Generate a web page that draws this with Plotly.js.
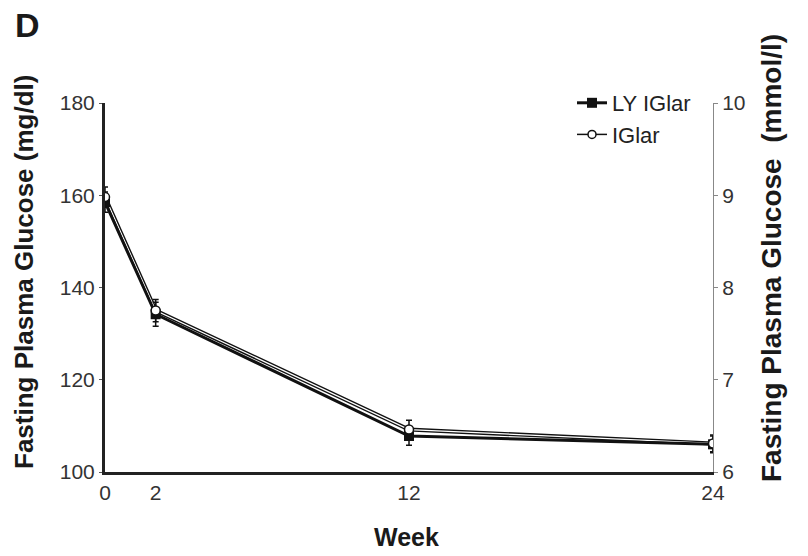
<!DOCTYPE html>
<html><head><meta charset="utf-8">
<script src="https://cdn.plot.ly/plotly-3.0.1.min.js"></script>
<style>body{margin:0;background:#fff}#c{width:808px;height:556px}</style>
</head><body><div id="c"></div>
<script>
const weeks = [0, 2, 12, 24];
const lyIGlar = [158.5, 134.2, 107.8, 106.0];
const lyErr = [2.2, 2.6, 2.0, 1.8];
const iGlar = [159.6, 135.0, 109.2, 106.2];
const iGlarErr = [2.2, 2.4, 2.0, 1.8];
const xTicks = [0, 2, 12, 24];
const yTicksMg = [100, 120, 140, 160, 180];
const yTicksMmol = [6, 7, 8, 9, 10];

const font = "Liberation Sans, Arial, sans-serif";
const W = 608, H = 369, L = 105, B = 472;
const px = x => (x - L) / W;
const py = y => (B - y) / H;

const traces = [
  {x: weeks, y: iGlar, mode: 'lines', line: {color: '#111', width: 4}, showlegend: false, hoverinfo: 'skip'},
  {x: weeks, y: iGlar, mode: 'lines', line: {color: '#fff', width: 1.2}, showlegend: false, hoverinfo: 'skip'},
  {x: weeks, y: lyIGlar, mode: 'lines+markers', name: 'LY IGlar',
   line: {color: '#111', width: 3},
   marker: {symbol: 'square', size: 10, color: '#111'},
   error_y: {type: 'data', array: lyErr, color: '#111', thickness: 1.5, width: 3}},
  {x: weeks, y: iGlar, mode: 'markers', name: 'IGlar', showlegend: false,
   marker: {symbol: 'circle', size: 9, color: '#fff', line: {color: '#111', width: 1.5}},
   error_y: {type: 'data', array: iGlarErr, color: '#111', thickness: 1.5, width: 3}},
  {x: [null], y: [null], mode: 'lines+markers', name: 'IGlar',
   line: {color: '#111', width: 1.5},
   marker: {symbol: 'circle', size: 8, color: '#fff', line: {color: '#111', width: 1.5}}},
  {x: [null], y: [null], yaxis: 'y2', showlegend: false, hoverinfo: 'skip'}
];
const ann = (text, x, y, size, angle) => ({text, x: px(x), y: py(y), xref: 'paper', yref: 'paper',
  xanchor: 'center', yanchor: 'middle', showarrow: false, textangle: angle || 0,
  font: {size, color: '#1a1a1a', family: font}});
const layout = {
  width: 808, height: 556,
  margin: {l: 105, r: 95, t: 103, b: 84},
  paper_bgcolor: '#fff', plot_bgcolor: '#fff',
  font: {family: font, color: '#222', size: 21},
  showlegend: true,
  legend: {x: px(572), y: py(82), xanchor: 'left', yanchor: 'top', font: {size: 22, family: font, color: '#222'},
           bgcolor: 'rgba(0,0,0,0)', tracegroupgap: 0, itemwidth: 30},
  xaxis: {range: [0, 24], tickvals: xTicks, ticktext: xTicks.map(String), showgrid: false, zeroline: false,
          showline: true, linecolor: '#222', linewidth: 3, ticks: '', tickfont: {size: 21, color: '#333'}},
  yaxis: {range: [100, 180], tickvals: yTicksMg, showgrid: false, zeroline: false,
          showline: true, linecolor: '#222', linewidth: 3, ticks: 'outside', ticklen: 3, tickcolor: '#555',
          tickfont: {size: 21, color: '#333'}},
  yaxis2: {range: [6, 10], tickvals: yTicksMmol, overlaying: 'y', side: 'right', showgrid: false, zeroline: false,
          showline: true, linecolor: '#888', linewidth: 1, ticks: 'outside', ticklen: 4, tickcolor: '#888',
          tickfont: {size: 21, color: '#333'}},
  annotations: [
    ann('<b>D</b>', 27, 25, 34),
    ann('<b>Fasting Plasma Glucose (mg/dl)</b>', 24, 272, 26, -90),
    ann('<b>Fasting Plasma Glucose&nbsp; (mmol/l)</b>', 771, 258, 28, -90),
    ann('<b>Week</b>', 406, 537, 25)
  ]
};
Plotly.newPlot('c', traces, layout, {displayModeBar: false, staticPlot: true});
</script></body></html>
